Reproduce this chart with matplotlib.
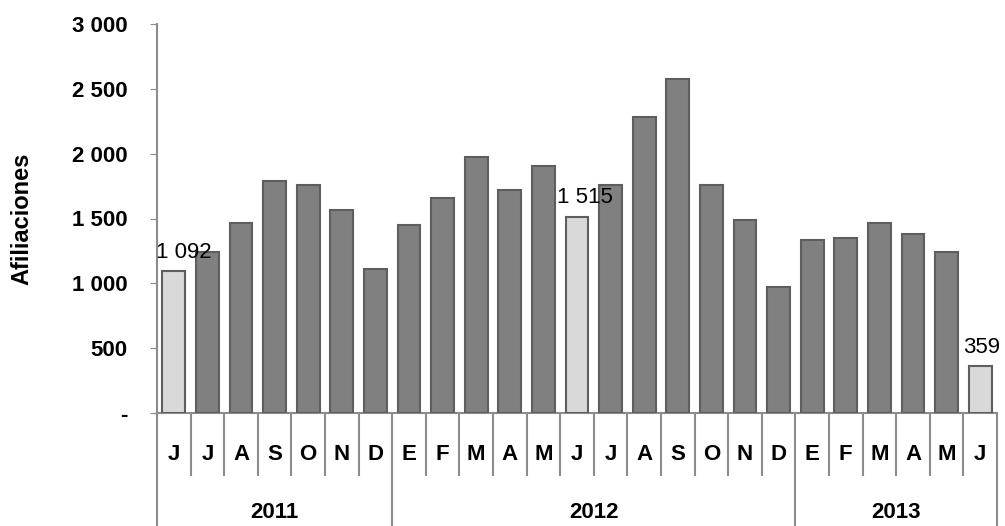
import matplotlib.pyplot as plt
import matplotlib.transforms as mtransforms
from matplotlib.ticker import FuncFormatter

plt.rcParams['font.family'] = ['Liberation Sans', 'DejaVu Sans']

months = ['J', 'J', 'A', 'S', 'O', 'N', 'D',
          'E', 'F', 'M', 'A', 'M', 'J', 'J', 'A', 'S', 'O', 'N', 'D',
          'E', 'F', 'M', 'A', 'M', 'J']
years = ['2011', '2012', '2013']
months_per_year = [7, 12, 6]
values = [1092, 1245, 1468, 1792, 1760, 1568, 1110,
          1452, 1660, 1978, 1720, 1908, 1515, 1758, 2285, 2575, 1758, 1485, 972,
          1332, 1348, 1466, 1380, 1245, 359]
highlight = [0, 12, 24]

dark = '#808080'
light = '#d9d9d9'
edge = '#5e5e5e'
axis_col = '#8c8c8c'

fig = plt.figure(figsize=(10.05, 5.26), dpi=100)
ax = fig.add_axes([157 / 1005, 113 / 526, 840 / 1005, 389 / 526])

x = list(range(len(values)))
colors = [light if i in highlight else dark for i in x]
ax.bar(x, values, width=0.68, color=colors, edgecolor=edge, linewidth=1.5, zorder=3)

# label offsets in points (last one kept inside the figure)
label_dx = {0: 7, 12: 6, 24: 1}
for i in highlight:
    ax.annotate(f'{values[i]:,}'.replace(',', ' '), (x[i], values[i]),
                xytext=(label_dx[i], 6), textcoords='offset points',
                ha='center', va='bottom', fontsize=16, color='black')

ax.set_xlim(-0.5, len(values) - 0.5)
ax.set_ylim(0, 3000)
ax.set_yticks(range(0, 3001, 500))
ax.yaxis.set_major_formatter(FuncFormatter(
    lambda v, p: '-' if v == 0 else f'{int(v):,}'.replace(',', ' ')))
ax.tick_params(axis='y', length=5, color=axis_col, labelsize=16, pad=16)
for lab in ax.get_yticklabels():
    lab.set_fontweight('bold')
ax.set_xticks([])

for side in ['top', 'right']:
    ax.spines[side].set_visible(False)
for side in ['left', 'bottom']:
    ax.spines[side].set_color(axis_col)
    ax.spines[side].set_linewidth(1.5)

ax.set_ylabel('Afiliaciones', fontsize=17, fontweight='bold', labelpad=28)

# category axis: month row and year row
trans = mtransforms.blended_transform_factory(ax.transData, ax.transAxes)
month_bottom = -62 / 389
year_bottom = -113 / 389
for i, m in enumerate(months):
    ax.text(i, -42 / 389, m, transform=trans, ha='center', va='center',
            fontsize=16, fontweight='bold')

year_edges = [-0.5]
for n in months_per_year:
    year_edges.append(year_edges[-1] + n)
for b in range(len(values) + 1):
    xb = b - 0.5
    low = year_bottom if xb in year_edges else month_bottom
    ax.plot([xb, xb], [0, low], transform=trans, color=axis_col,
            linewidth=1.5, clip_on=False)
for k, y in enumerate(years):
    mid = (year_edges[k] + year_edges[k + 1]) / 2
    ax.text(mid, -100 / 389, y, transform=trans, ha='center', va='center',
            fontsize=16, fontweight='bold')

fig.savefig('out.png', dpi=100)
